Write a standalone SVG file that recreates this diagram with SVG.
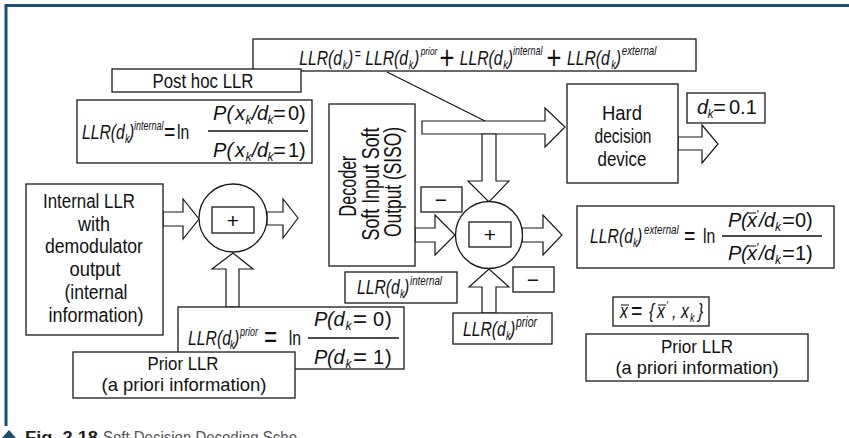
<svg xmlns="http://www.w3.org/2000/svg" width="849" height="438" viewBox="0 0 849 438">
<style>
.b{fill:#fff;stroke:#1a1a1a;stroke-width:1.3}
.a{fill:#fff;stroke:#1a1a1a;stroke-width:1.2;stroke-linejoin:miter}
.t{font-family:"Liberation Sans",Arial,sans-serif;font-size:21px;fill:#111}
.m{font-size:20px}
.c{text-anchor:middle}
.f{font-family:"Liberation Sans",Arial,sans-serif;font-size:21px;fill:#111}
.fr{font-family:"Liberation Sans",Arial,sans-serif;font-size:20px;fill:#111}
.i{font-style:italic}
.sb{font-size:12px;font-style:italic}
.sp{font-size:12px;font-style:italic}
.eq{font-size:26px;font-style:normal}
.eq2{font-size:22px;font-style:normal}
.bar{stroke:#111;stroke-width:1}
.fl{stroke:#111;stroke-width:1.3}
.frame{stroke:#1b4e71;stroke-width:3;fill:none}
</style>
<rect width="849" height="438" fill="#fff"/>
<g id="frame">
<path class="frame" d="M6,426 V5.5 H849"/>
</g>

<g id="connectors">
<polygon class="a" points="422,121 545,121 545,108 565,127 545,147 545,134 422,134"/>
<polygon class="a" points="482,134 482,181 468,181 489,202 509,181 496,181 496,134"/>
<line x1="387" y1="72" x2="485" y2="121" stroke="#111" stroke-width="1.1"/>
<polygon class="a" points="163,212 183,212 183,199 199,219 183,239 183,226 163,226"/>
<polygon class="a" points="267,212 283,212 283,199 298,218 283,238 283,225 267,225"/>
<polygon class="a" points="226,307 226,269 212,269 233,253 253,269 239,269 239,307"/>
<polygon class="a" points="415,228 435,228 435,215 455,235 435,255 435,242 415,242"/>
<polygon class="a" points="522,228 543,228 543,215 562,235 543,255 543,242 522,242"/>
<polygon class="a" points="482,313 482,287 469,287 489,269 509,287 496,287 496,313"/>
<polygon class="a" points="678,137 702,137 702,125 718,144 702,163 702,150 678,150"/>
</g>

<g id="llr-total">
<rect class="b" x="253" y="39" width="443" height="32"/>
<text class="f" transform="scale(0.75,1)"><tspan class="i" x="399" y="65">LLR(d</tspan><tspan class="sb" x="457" y="69">k</tspan><tspan class="i" x="464" y="65">)</tspan><tspan style="font-size:14px" x="473" y="59">=</tspan><tspan class="i" x="487" y="65">LLR(d</tspan><tspan class="sb" x="545" y="69">k</tspan><tspan class="i" x="552" y="65">)</tspan><tspan class="sp" style="font-size:11px" x="561" y="55">prior</tspan><tspan style="font-size:34px" x="586" y="69">+</tspan><tspan class="i" x="613" y="65">LLR(d</tspan><tspan class="sb" x="671" y="69">k</tspan><tspan class="i" x="677" y="65">)</tspan><tspan class="sp" x="684" y="55">internal</tspan><tspan style="font-size:34px" x="728.7" y="69">+</tspan><tspan class="i" x="756" y="65">LLR(d</tspan><tspan class="sb" x="815" y="69">k</tspan><tspan class="i" x="821" y="65">)</tspan><tspan class="sp" style="font-size:13px" x="829" y="55">external</tspan></text>
</g>

<g id="post-hoc">
<rect class="b" x="112" y="69" width="189" height="23"/>
<text class="t c" x="203" y="88" textLength="101" lengthAdjust="spacingAndGlyphs">Post hoc LLR</text>
</g>

<g id="llr-internal-formula">
<rect class="b" x="77" y="100" width="235" height="63"/>
<line class="fl" x1="208" y1="131" x2="308" y2="131"/>
<text class="f" transform="scale(0.75,1)"><tspan class="i" x="109.3" y="139">LLR(d</tspan><tspan class="sb" x="166.7" y="143">k</tspan><tspan class="i" x="172" y="139">)</tspan><tspan class="sp" x="178.7" y="130">internal</tspan><tspan class="eq" x="218.7" y="140">=</tspan><tspan x="236" y="139">ln</tspan></text>
<text class="fr"><tspan class="i" x="213 226.5 235" y="120">P(x</tspan><tspan class="sb" x="245.5" y="124">k</tspan><tspan class="i" x="252 257" y="120">/d</tspan><tspan class="sb" x="267.5" y="124">k</tspan><tspan class="eq2" x="273" y="121">=</tspan><tspan x="288 299" y="120">0)</tspan></text>
<text class="fr"><tspan class="i" x="213 226.5 235" y="157">P(x</tspan><tspan class="sb" x="245.5" y="161">k</tspan><tspan class="i" x="252 257" y="157">/d</tspan><tspan class="sb" x="267.5" y="161">k</tspan><tspan class="eq2" x="273" y="158">=</tspan><tspan x="288 299" y="157">1)</tspan></text>
</g>

<g id="decoder">
<rect class="b" x="329" y="104" width="86" height="162"/>
<text class="t c" transform="translate(356,186) rotate(-90)" x="0" y="0" style="font-size:23px" textLength="61" lengthAdjust="spacingAndGlyphs">Decoder</text>
<text class="t c" transform="translate(379,184) rotate(-90)" x="0" y="0" style="font-size:23px" textLength="113" lengthAdjust="spacingAndGlyphs">Soft Input Soft</text>
<text class="t c" transform="translate(401,182) rotate(-90)" x="0" y="0" style="font-size:23px" textLength="110" lengthAdjust="spacingAndGlyphs">Output  (SISO)</text>
</g>

<g id="hard-decision">
<rect class="b" x="567" y="84" width="111" height="99"/>
<text class="t c m" x="622" y="120" textLength="40" lengthAdjust="spacingAndGlyphs">Hard</text>
<text class="t c m" x="623" y="143" textLength="57" lengthAdjust="spacingAndGlyphs">decision</text>
<text class="t c m" x="622" y="166" textLength="49" lengthAdjust="spacingAndGlyphs">device</text>
</g>

<g id="dk-value">
<rect class="b" x="687" y="93" width="78" height="30"/>
<text class="fr"><tspan class="i" x="697" y="114">d</tspan><tspan class="sb" x="707.5" y="118">k</tspan><tspan class="eq2" x="713" y="115">=</tspan><tspan x="729" y="114">0.1</tspan></text>
</g>

<g id="internal-llr">
<rect class="b" x="26" y="184" width="137" height="151"/>
<text class="t c m" x="89" y="208" textLength="92" lengthAdjust="spacingAndGlyphs">Internal LLR</text>
<text class="t c m" x="94" y="231" textLength="32" lengthAdjust="spacingAndGlyphs">with</text>
<text class="t c m" x="94" y="253" textLength="98" lengthAdjust="spacingAndGlyphs">demodulator</text>
<text class="t c m" x="95" y="276" textLength="51" lengthAdjust="spacingAndGlyphs">output</text>
<text class="t c m" x="96" y="299" textLength="63" lengthAdjust="spacingAndGlyphs">(internal</text>
<text class="t c m" x="96" y="322" textLength="95" lengthAdjust="spacingAndGlyphs">information)</text>
</g>

<g id="sum-1">
<circle class="b" cx="233" cy="218" r="34"/>
<rect class="b" x="212" y="207" width="42" height="26"/>
<text class="t c" x="233" y="228">+</text>
</g>

<g id="llr-prior-formula">
<rect class="b" x="178" y="307" width="226" height="62"/>
<line class="fl" x1="308" y1="338" x2="399" y2="338"/>
<text class="f" transform="scale(0.75,1)"><tspan class="i" x="250.7" y="345">LLR(d</tspan><tspan class="sb" x="306.7" y="349">k</tspan><tspan class="i" x="312" y="345">)</tspan><tspan class="sp" x="320" y="336">prior</tspan><tspan class="eq" style="font-size:30px" x="352" y="347">=</tspan><tspan x="385" y="345">ln</tspan></text>
<text class="fr"><tspan class="i" x="314 327 333.5" y="326">P(d</tspan><tspan class="sb" x="345.5" y="330">k</tspan><tspan class="eq2" style="font-size:24px" x="353" y="327">=</tspan><tspan x="373 385" y="326">0)</tspan></text>
<text class="fr"><tspan class="i" x="314 327 333.5" y="364">P(d</tspan><tspan class="sb" x="345.5" y="368">k</tspan><tspan class="eq2" style="font-size:24px" x="353" y="365">=</tspan><tspan x="373 385" y="364">1)</tspan></text>
</g>

<g id="prior-llr-left">
<rect class="b" x="73" y="352" width="222" height="46"/>
<text class="t c" style="font-size:19px" x="183" y="370" textLength="71" lengthAdjust="spacingAndGlyphs">Prior LLR</text>
<text class="t c" style="font-size:19px" x="184" y="391" textLength="165" lengthAdjust="spacingAndGlyphs">(a priori information)</text>
</g>

<g id="minus-top">
<rect class="b" x="421" y="187" width="41" height="25"/>
<text class="t c" x="441" y="207">−</text>
</g>

<g id="sum-2">
<circle class="b" cx="489" cy="235" r="33.5"/>
<rect class="b" x="469" y="222" width="42" height="25"/>
<text class="t c" x="490" y="242">+</text>
</g>

<g id="minus-bottom">
<rect class="b" x="513" y="267" width="41" height="25"/>
<text class="t c" x="533" y="287">−</text>
</g>

<g id="llr-internal-label">
<rect class="b" x="345" y="272" width="112" height="31"/>
<text class="f" transform="scale(0.75,1)"><tspan class="i" x="476" y="294">LLR(d</tspan><tspan class="sb" x="533.3" y="298">k</tspan><tspan class="i" x="538.7" y="294">)</tspan><tspan class="sp" style="font-size:13px" x="546.7" y="285">internal</tspan></text>
</g>

<g id="llr-prior-label">
<rect class="b" x="453" y="313" width="99" height="31"/>
<text class="f" transform="scale(0.75,1)"><tspan class="i" x="617.3" y="336">LLR(d</tspan><tspan class="sb" x="674.7" y="340">k</tspan><tspan class="i" x="680" y="336">)</tspan><tspan class="sp" style="font-size:14px" x="688" y="327">prior</tspan></text>
</g>

<g id="llr-external-formula">
<rect class="b" x="577" y="206" width="257" height="62"/>
<line class="fl" x1="722" y1="236" x2="822" y2="236"/>
<line class="bar" x1="748" y1="213" x2="756" y2="213"/>
<line class="bar" x1="748" y1="246" x2="756" y2="246"/>
<text class="f" transform="scale(0.75,1)"><tspan class="i" x="786.7" y="243">LLR(d</tspan><tspan class="sb" x="844" y="247">k</tspan><tspan class="i" x="849.3" y="243">)</tspan><tspan class="sp" style="font-size:13px" x="858.7" y="234">external</tspan><tspan class="eq" x="912" y="244">=</tspan><tspan x="937.3" y="243">ln</tspan></text>
<text class="fr"><tspan class="i" x="728 741 747" y="227">P(x</tspan><tspan class="sp" x="756" y="219">'</tspan><tspan class="i" x="759 764" y="227">/d</tspan><tspan class="sb" x="775" y="231">k</tspan><tspan class="eq2" x="782" y="228">=</tspan><tspan x="795 806" y="227">0)</tspan></text>
<text class="fr"><tspan class="i" x="728 741 747" y="260">P(x</tspan><tspan class="sp" x="756" y="252">'</tspan><tspan class="i" x="759 764" y="260">/d</tspan><tspan class="sb" x="775" y="264">k</tspan><tspan class="eq2" x="782" y="261">=</tspan><tspan x="795 806" y="260">1)</tspan></text>
</g>

<g id="x-bar-def">
<rect class="b" x="613" y="297" width="96" height="29"/>
<line class="bar" x1="621" y1="305" x2="629" y2="305"/>
<line class="bar" x1="658" y1="305" x2="666" y2="305"/>
<text class="f" transform="scale(0.75,1)"><tspan class="i" x="826.7" y="318">x</tspan><tspan class="eq" x="841.3" y="319">=</tspan><tspan class="i" x="865.3" y="318">{</tspan><tspan class="i" x="876" y="318">x</tspan><tspan class="sp" x="888" y="310">'</tspan><tspan class="i" x="896" y="318">,</tspan><tspan class="i" x="908" y="318">x</tspan><tspan class="sb" x="920" y="322">k</tspan><tspan class="i" x="930.7" y="318">}</tspan></text>
</g>

<g id="prior-llr-right">
<rect class="b" x="586" y="334" width="222" height="47"/>
<text class="t c" style="font-size:19px" x="697" y="353" textLength="72" lengthAdjust="spacingAndGlyphs">Prior LLR</text>
<text class="t c" style="font-size:19px" x="697" y="374" textLength="163" lengthAdjust="spacingAndGlyphs">(a priori information)</text>
</g>

<g id="caption">
<polygon points="2,438 9,430 16,438" fill="#1b4e71"/>
<text x="25" y="443" font-family="Liberation Sans, Arial, sans-serif" font-size="16" font-weight="bold" fill="#222" textLength="73" lengthAdjust="spacingAndGlyphs">Fig. 2.18</text>
<text x="103" y="443" font-family="Liberation Sans, Arial, sans-serif" font-size="16" fill="#555" textLength="194" lengthAdjust="spacingAndGlyphs">Soft Decision Decoding Sche</text>
</g>
</svg>
